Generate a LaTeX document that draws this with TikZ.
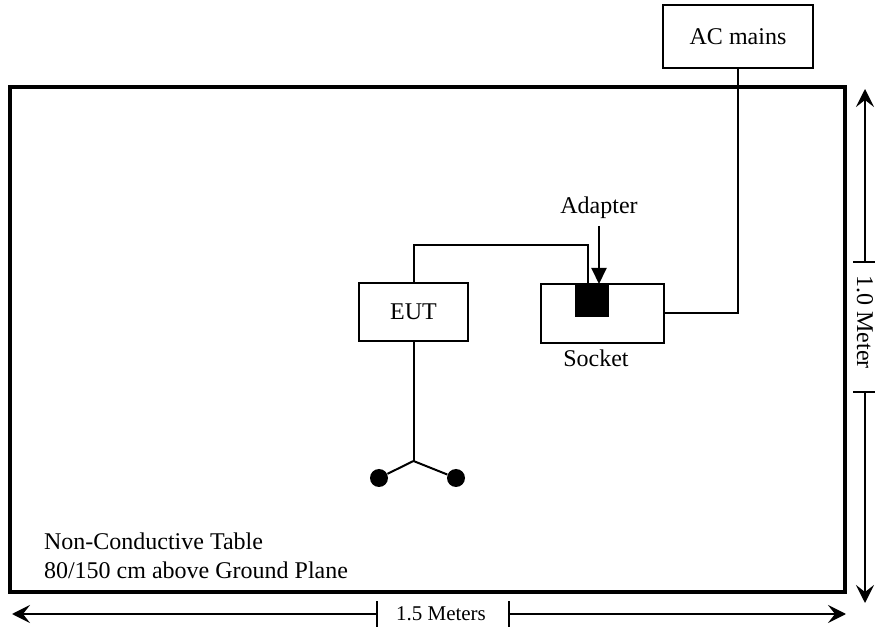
\documentclass[tikz,border=0pt]{standalone}
\usepackage{fontspec}
\setmainfont{Liberation Serif}
\usetikzlibrary{arrows.meta,positioning}
\tikzset{>={Stealth[length=9pt,width=9pt,inset=3.5pt]},
  box/.style={draw,semithick,inner sep=0pt},
  wire/.style={line width=1pt},
  dot/.style={circle,fill,inner sep=0pt,minimum size=9pt}}

\begin{document}
\begin{tikzpicture}[x=0.5pt,y=-0.5pt,font=\fontsize{12}{14.5}\selectfont]

  \useasboundingbox (0,0) rectangle (875,631);

  \draw [ultra thick] (10,87) rectangle (845,592);



  \node [box,minimum width=75pt,minimum height=31.5pt] (mains) at (738,36.5) {AC mains};
  \node [box,minimum width=61.5pt,minimum height=29.5pt] (socket) at (602.5,313.5) {};
  \node [fill,inner sep=0pt,minimum width=17pt,minimum height=16.5pt,anchor=north] (adapter) at (592,284) {};
  \node [box,minimum width=54.5pt,minimum height=29pt] (eut) at (413.5,312) {EUT};

  \node (sockettext) at (596,358) {Socket};
  \node (adaptertext) at (599,208) {Adapter};
  \coordinate (adaptertip) at (599,284);

  \draw [wire] (mains.south) |- (socket.east);
  \draw [wire] (eut.north) |- ([xshift=-2pt]adapter.north |- 0,245) -- ([xshift=-2pt]adapter.north);
  \draw [wire,-{Triangle[length=8pt,width=7.5pt]}] (adaptertext.south) -- (adaptertip);



  \coordinate (fork) at (eut.south |- 0,461);
  \node [dot] (plugl) at (379,478) {};
  \node [dot] (plugr) at (456,478) {};
  \draw [wire] (eut.south) -- (fork);
  \draw [wire] (plugl) -- (fork) -- (plugr);

  \node [anchor=west,align=left] (tabletext) at (37,556) {Non-Conductive Table\\80/150 cm above Ground Plane};



  % dimensions
  \node [font=\fontsize{10.5}{12}\selectfont] (widthtext) at (441,614) {1.5 Meters};
  \coordinate (wleft) at (12,614);
  \coordinate (wright) at (846,614);
  \coordinate (wtickl) at (377,614);
  \coordinate (wtickr) at (509,614);
  \draw [wire,->] (wtickl) -- (wleft);
  \draw [wire,->] (wtickr) -- (wright);
  \draw [wire] ([yshift=-6.5pt]wtickl) -- ([yshift=6.5pt]wtickl);
  \draw [wire] ([yshift=-6.5pt]wtickr) -- ([yshift=6.5pt]wtickr);

  \node [rotate=-90,font=\fontsize{12}{14}\selectfont] (heighttext) at (865,322) {1.0 Meter};
  \coordinate (htop) at (865,89);
  \coordinate (hbottom) at (865,603);
  \coordinate (htickt) at (865,262);
  \coordinate (htickb) at (865,392);
  \draw [wire,->] (htickt) -- (htop);
  \draw [wire,->] (htickb) -- (hbottom);
  \draw [wire] ([xshift=-6pt]htickt) -- ([xshift=6pt]htickt);
  \draw [wire] ([xshift=-6pt]htickb) -- ([xshift=6pt]htickb);

\end{tikzpicture}
\end{document}
